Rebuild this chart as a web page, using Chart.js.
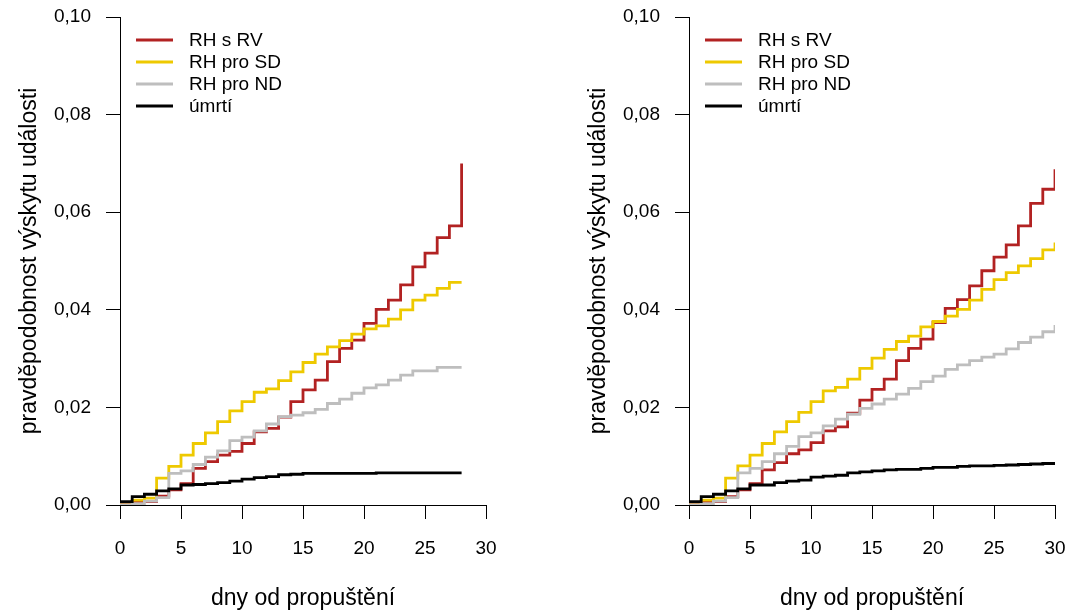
<!DOCTYPE html>
<html>
<head>
<meta charset="utf-8">
<script src="https://cdn.jsdelivr.net/npm/chart.js@4/dist/chart.umd.min.js"></script>
<style>
  html, body { margin: 0; padding: 0; background: #fff; }
  #wrap { position: relative; width: 1070px; height: 612px; }
  canvas { position: absolute; top: 0; }
  #left { left: 0; }
  #right { left: 569px; }
</style>
</head>
<body>
<div id="wrap">
  <canvas id="left" width="501" height="612"></canvas>
  <canvas id="right" width="501" height="612"></canvas>
</div>
<script>
const seriesNames = ['RH s RV', 'RH pro SD', 'RH pro ND', 'úmrtí'];
const seriesColors = ['#B22222', '#EEC900', '#BEBEBE', '#000000'];

const xTicks = [0, 5, 10, 15, 20, 25, 30];
const yTicks = [0, 0.02, 0.04, 0.06, 0.08, 0.10];

// left panel, days 0..28
const daysLeft = [0, 1, 2, 3, 4, 5, 6, 7, 8, 9, 10, 11, 12, 13, 14, 15, 16, 17, 18, 19, 20, 21, 22, 23, 24, 25, 26, 27, 28];
const redLeft = [0.0002, 0.0007, 0.0007, 0.0018, 0.0031, 0.0044, 0.0075, 0.0089, 0.0102, 0.0110, 0.0126, 0.0150, 0.0157, 0.0180, 0.0212, 0.0236, 0.0256, 0.0294, 0.0321, 0.0338, 0.0372, 0.0401, 0.0420, 0.0451, 0.0488, 0.0516, 0.0548, 0.0572, 0.0700];
const yellowLeft = [0, 0.0010, 0.0014, 0.0055, 0.0079, 0.0102, 0.0126, 0.0148, 0.0171, 0.0193, 0.0212, 0.0231, 0.0238, 0.0255, 0.0273, 0.0292, 0.0309, 0.0324, 0.0337, 0.0350, 0.0361, 0.0367, 0.0381, 0.0400, 0.0420, 0.0430, 0.0444, 0.0456, 0.0456];
const greyLeft = [0, 0.0003, 0.0008, 0.0015, 0.0065, 0.0070, 0.0083, 0.0098, 0.0111, 0.0132, 0.0139, 0.0152, 0.0166, 0.0181, 0.0184, 0.0189, 0.0196, 0.0208, 0.0217, 0.0229, 0.0240, 0.0246, 0.0256, 0.0266, 0.0275, 0.0275, 0.0282, 0.0282, 0.0282];
const blackLeft = [0.0007, 0.0017, 0.0022, 0.0029, 0.0033, 0.0041, 0.0042, 0.0044, 0.0046, 0.0049, 0.0053, 0.0056, 0.0058, 0.0062, 0.0063, 0.0065, 0.0065, 0.0065, 0.0065, 0.0065, 0.0065, 0.0066, 0.0066, 0.0066, 0.0066, 0.0066, 0.0066, 0.0066, 0.0066];

// right panel, days 0..30
const daysRight = [0, 1, 2, 3, 4, 5, 6, 7, 8, 9, 10, 11, 12, 13, 14, 15, 16, 17, 18, 19, 20, 21, 22, 23, 24, 25, 26, 27, 28, 29, 30];
const redRight = [0.0002, 0.0007, 0.0007, 0.0017, 0.0031, 0.0044, 0.0072, 0.0087, 0.0105, 0.0113, 0.0128, 0.0152, 0.0160, 0.0188, 0.0215, 0.0237, 0.0258, 0.0296, 0.0321, 0.0340, 0.0374, 0.0403, 0.0421, 0.0449, 0.0480, 0.0508, 0.0533, 0.0572, 0.0618, 0.0647, 0.0688];
const yellowRight = [0, 0.0010, 0.0014, 0.0055, 0.0080, 0.0102, 0.0126, 0.0150, 0.0171, 0.0190, 0.0212, 0.0234, 0.0241, 0.0258, 0.0280, 0.0301, 0.0319, 0.0335, 0.0346, 0.0365, 0.0376, 0.0387, 0.0401, 0.0420, 0.0442, 0.0462, 0.0476, 0.0490, 0.0505, 0.0523, 0.0538];
const greyRight = [0, 0.0003, 0.0008, 0.0015, 0.0066, 0.0075, 0.0089, 0.0105, 0.0120, 0.0140, 0.0148, 0.0162, 0.0176, 0.0186, 0.0198, 0.0207, 0.0217, 0.0227, 0.0239, 0.0253, 0.0264, 0.0278, 0.0287, 0.0296, 0.0303, 0.0309, 0.0320, 0.0333, 0.0344, 0.0355, 0.0369];
const blackRight = [0.0007, 0.0017, 0.0022, 0.0029, 0.0033, 0.0041, 0.0041, 0.0046, 0.0049, 0.0051, 0.0057, 0.0059, 0.0061, 0.0066, 0.0068, 0.0070, 0.0072, 0.0073, 0.0073, 0.0075, 0.0077, 0.0077, 0.0079, 0.0080, 0.0080, 0.0081, 0.0082, 0.0083, 0.0084, 0.0085, 0.0085];

const FONT = "'Liberation Sans', Arial, sans-serif";
Chart.defaults.font.family = FONT;
Chart.defaults.font.size = 19;
Chart.defaults.color = '#000';

// legend drawn inside the plot, R style
const insideLegend = {
  id: 'insideLegend',
  afterDraw(chart) {
    const { ctx, chartArea } = chart;
    ctx.save();
    ctx.font = '19px ' + FONT;
    ctx.textBaseline = 'middle';
    ctx.fillStyle = '#000';
    chart.data.datasets.forEach((ds, i) => {
      const y = chartArea.top + 23 + i * 22;
      ctx.strokeStyle = ds.borderColor;
      ctx.lineWidth = 2.8;
      ctx.beginPath();
      ctx.moveTo(chartArea.left + 16, y);
      ctx.lineTo(chartArea.left + 53, y);
      ctx.stroke();
      ctx.fillText(ds.label, chartArea.left + 69, y + 1);
    });
    ctx.restore();
  },
};

// drop the extra room chart.js keeps for edge tick labels
function noEdgePadding(s) {
  s.paddingTop = 0;
  s.paddingBottom = 0;
  s.paddingLeft = 0;
  s.paddingRight = 0;
}

function makePanel(id, days, series) {
  const datasets = series.map((vals, i) => ({
    label: seriesNames[i],
    data: days.map((d, j) => ({ x: d, y: vals[j] })),
    borderColor: seriesColors[i],
    borderWidth: 2.8,
    stepped: true,
    pointRadius: 0,
    fill: false,
    order: series.length - i,
  }));

  return new Chart(document.getElementById(id), {
    type: 'line',
    data: { datasets },
    options: {
      responsive: false,
      animation: false,
      layout: { padding: { top: 17, right: 15, left: 0, bottom: 0 } },
      plugins: { legend: { display: false }, tooltip: { enabled: false } },
      scales: {
        x: {
          type: 'linear',
          min: 0,
          max: 30,
          afterFit: (s) => { s.height = 107; noEdgePadding(s); },
          afterBuildTicks: (s) => { s.ticks = xTicks.map((v) => ({ value: v })); },
          ticks: { padding: 18, maxRotation: 0 },
          grid: { drawOnChartArea: false, drawTicks: true, tickLength: 14, color: '#000', lineWidth: 1 },
          border: { display: true, color: '#000', width: 1 },
          title: { display: true, text: 'dny od propuštění', font: { size: 23 }, padding: 0 },
        },
        y: {
          min: 0,
          max: 0.1,
          afterFit: (s) => { s.width = 120; noEdgePadding(s); },
          afterBuildTicks: (s) => { s.ticks = yTicks.map((v) => ({ value: v })); },
          ticks: {
            padding: 15,
            callback: (v) => v.toFixed(2).replace('.', ','),
          },
          grid: { drawOnChartArea: false, drawTicks: true, tickLength: 14, color: '#000', lineWidth: 1 },
          border: { display: true, color: '#000', width: 1 },
          title: { display: true, text: 'pravděpodobnost výskytu události', font: { size: 23 }, padding: { top: 16, bottom: 0 } },
        },
      },
    },
    plugins: [insideLegend],
  });
}

makePanel('left', daysLeft, [redLeft, yellowLeft, greyLeft, blackLeft]);
makePanel('right', daysRight, [redRight, yellowRight, greyRight, blackRight]);
</script>
</body>
</html>
